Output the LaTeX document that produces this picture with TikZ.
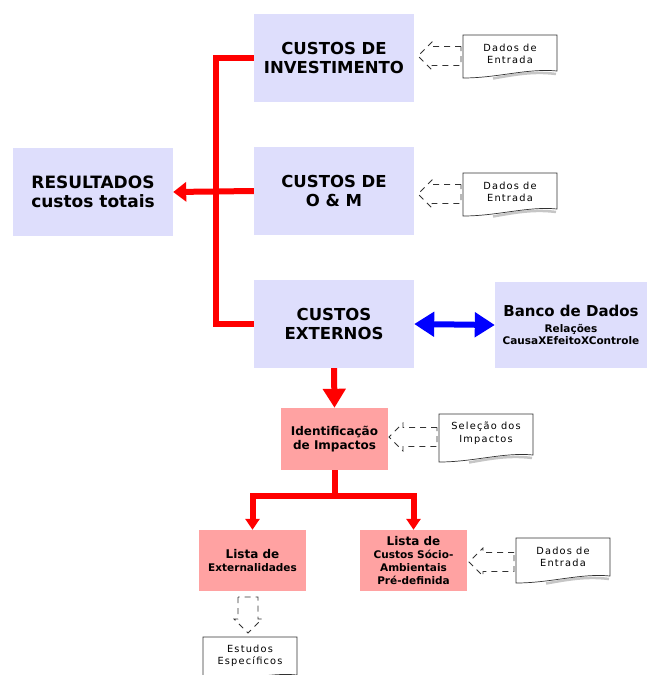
\documentclass[tikz,border=0pt]{standalone}
\usepackage{fontspec}
\setmainfont{DejaVu Sans}
\newfontfamily\docfont[LetterSpace=12]{DejaVu Sans}
\usetikzlibrary{arrows.meta}
\definecolor{lav}{RGB}{222,222,252}
\definecolor{pnk}{RGB}{255,162,162}
\definecolor{dgr}{RGB}{50,50,50}
\tikzset{
  bigbox/.style={fill=lav, draw=none, minimum width=160pt, minimum height=88pt, inner sep=0pt, align=center,
    font=\fontsize{16.5}{18.5}\selectfont\bfseries},
  pinkbox/.style={fill=pnk, draw=none, minimum width=107pt, minimum height=61pt, inner sep=0pt, align=center,
    font=\fontsize{10.5}{13}\selectfont\bfseries},
  redline/.style={draw=red, line width=6pt, line join=miter},
  redarrow/.style={redline, -{Triangle[length=19pt,width=22pt]}},
  smallarrow/.style={redline, -{Triangle[length=11pt,width=14pt]}},
  docline/.style={draw=dgr, fill=white, line width=0.7pt},
  doctext/.style={align=center, inner sep=0pt, font=\fontsize{9.8}{12.5}\selectfont\docfont, text=black},
  callline/.style={draw=dgr, line width=0.8pt, dash pattern=on 6pt off 5pt},
}
\newcommand\docsh[5]{%
  \begin{scope}[shift={(#2,#3)}]
    \draw[gray!45, line width=2.5pt] (93,#4-4) .. controls (70,#4-7) and (50,#4-3) .. (30,#4+0.5);
    \draw[docline] (0,0) -- (94,0) -- (94,#4-7) .. controls (65,#4-10) and (35,#4) .. (0,#4) -- cycle;
    \node[doctext] (#1) at (47,19) {#5};
  \end{scope}}
\newcommand\callL[3]{%
  \draw[callline] (#3,#2-9.5) -- (#1+14,#2-9.5) -- (#1+14,#2-14) -- (#1,#2) -- (#1+14,#2+14) -- (#1+14,#2+9.5) -- (#3,#2+9.5) -- cycle;}
\begin{document}
\begin{tikzpicture}[x=1pt,y=-1pt]
\useasboundingbox (0,0) rectangle (650,675);
% main boxes
\node[bigbox] (inv) at (334,58) {CUSTOS DE\\INVESTIMENTO};
\node[bigbox] (om) at (334,191) {CUSTOS DE\\O \& M};
\node[bigbox] (ext) at (334,324) {CUSTOS\\EXTERNOS};
\node[bigbox, font=\fontsize{17}{18.5}\selectfont\bfseries] (res) at (93,192) {RESULTADOS\\custos totais};
\node[bigbox, minimum width=152pt, minimum height=86pt, font=\bfseries] (banco) at (571,325)
  {{\fontsize{15}{17}\selectfont Banco de Dados}\\[4pt]{\fontsize{10.5}{12.5}\selectfont Relações}\\[0pt]{\fontsize{10.5}{12.5}\selectfont CausaXEfeitoXControle}};
\node[pinkbox, minimum height=62pt, font=\fontsize{12}{14.6}\selectfont\bfseries] (ident) at (334.5,439) {Identificação\\de Impactos};
\node[pinkbox] (lext) at (252.5,560.5) {{\fontsize{12}{13}\selectfont Lista de}\\Externalidades};
\node[pinkbox] (lcus) at (413.5,560.5) {{\fontsize{12}{13}\selectfont Lista de}\\Custos Sócio-\\Ambientais\\Pré-definida};
% red bracket
\coordinate (bx) at (216,0);
\draw[redline] (inv.west) -- (bx |- inv.west) -- (bx |- ext.west) -- (ext.west);
\draw[redline, -{Triangle[length=13pt,width=19pt]}] (om.west) -- (res.east);
% blue double arrow
\draw[blue, line width=6pt, {Triangle[length=20pt,width=24pt]}-{Triangle[length=20pt,width=24pt]}] (ext.east) -- (banco.west);
% lower tree
\draw[redarrow] (ext.south) -- (ident.north);
\coordinate (j) at (334.5,496);
\draw[redline] (ident.south) -- (j);
\draw[smallarrow] (j) -| (lext.north);
\draw[smallarrow] (j) -| (lcus.north);
% documents
\docsh{d1}{463}{35}{43}{Dados de\\Entrada}
\docsh{d2}{463}{173}{43}{Dados de\\Entrada}
\docsh{d3}{439}{414}{48}{Seleção dos\\Impactos}
\docsh{d4}{516}{538}{45}{Dados de\\Entrada}
\docsh{d5}{203}{637}{45}{Estudos\\Específicos}
% dashed callouts
\callL{418}{56}{461}
\callL{418}{194}{461}
\callL{389}{437}{437}
\callL{469}{562}{514}
\draw[callline] (238,597) -- (238,619) -- (234,619) -- (248,633) -- (262,619) -- (258,619) -- (258,597) -- cycle;
\end{tikzpicture}
\end{document}
